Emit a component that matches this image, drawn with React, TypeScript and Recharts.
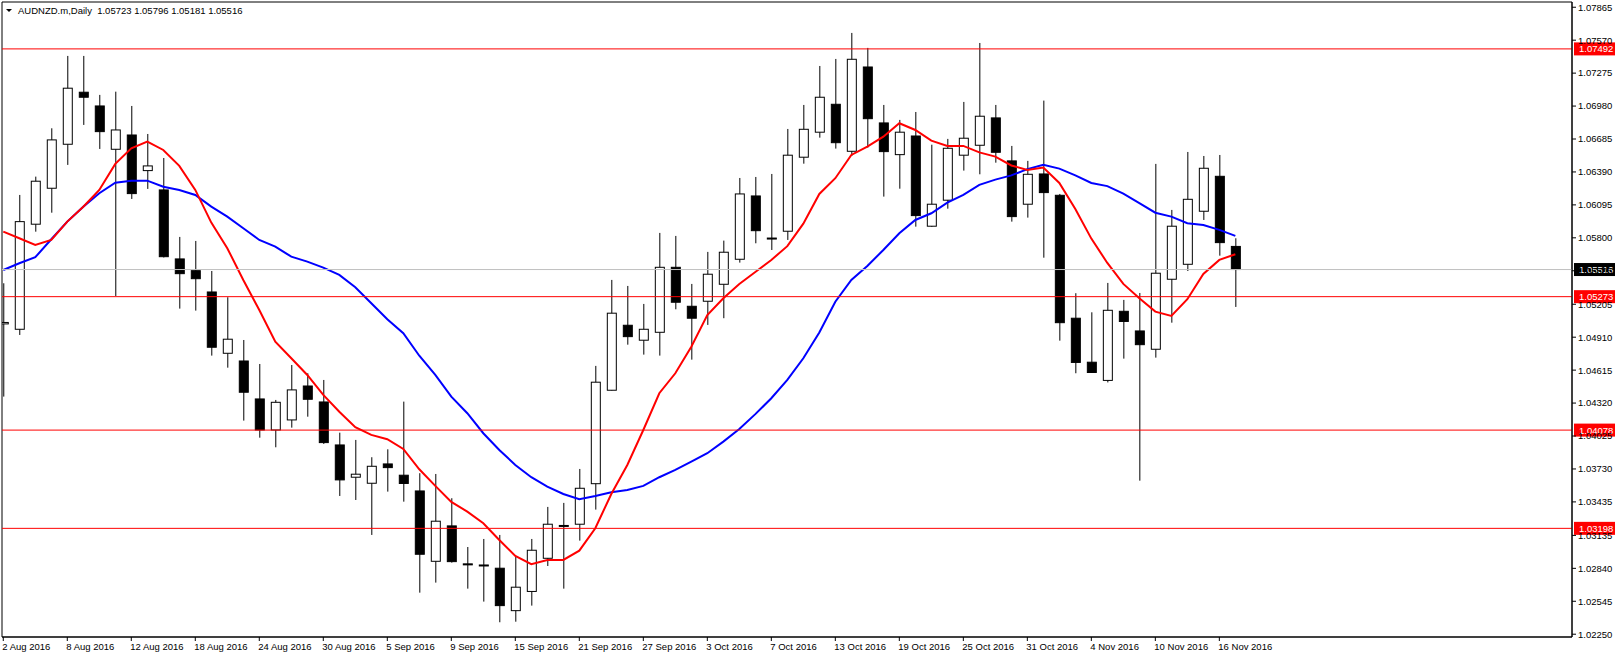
import { ComposedChart, Bar, Line, XAxis, YAxis, ReferenceLine, ReferenceArea } from "recharts";

const FONT = "'Liberation Sans', Arial, sans-serif";
const symbol = "AUDNZD.m,Daily";

// trading days on the chart
const monthDays: [string, number[]][] = [
  ["Aug", [2, 3, 4, 5, 8, 9, 10, 11, 12, 15, 16, 17, 18, 19, 22, 23, 24, 25, 26, 29, 30, 31]],
  ["Sep", [1, 2, 5, 6, 7, 8, 9, 12, 13, 14, 15, 16, 19, 20, 21, 22, 23, 26, 27, 28, 29, 30]],
  ["Oct", [3, 4, 5, 6, 7, 10, 11, 12, 13, 14, 17, 18, 19, 20, 21, 24, 25, 26, 27, 28, 31]],
  ["Nov", [1, 2, 3, 4, 7, 8, 9, 10, 11, 14, 15, 16, 17]],
];
const days = monthDays.flatMap(([m, ds]) => ds.map((d) => `${d} ${m} 2016`));

const opens = [
  1.05029, 1.04981, 1.05922, 1.06244, 1.06638, 1.07104, 1.06981, 1.06593, 1.06721, 1.06402,
  1.06229, 1.05611, 1.05506, 1.05315, 1.04766, 1.04697, 1.04357, 1.04079, 1.04169, 1.04473,
  1.0433, 1.03945, 1.03656, 1.03602, 1.03775, 1.03674, 1.03533, 1.02903, 1.0322, 1.0288,
  1.0287, 1.02841, 1.02461, 1.02633, 1.0293, 1.0322, 1.03235, 1.03598, 1.04435, 1.05017,
  1.04883, 1.04954, 1.05536, 1.05187, 1.05232, 1.05384, 1.05608, 1.06175, 1.05798, 1.05859,
  1.06522, 1.06746, 1.06996, 1.06575, 1.0733, 1.06829, 1.06545, 1.06712, 1.05904, 1.06137,
  1.0654, 1.06629, 1.06874, 1.06489, 1.06101, 1.06372, 1.06181, 1.0508, 1.04686, 1.04523,
  1.05142, 1.04966, 1.04802, 1.05429, 1.05563, 1.06038, 1.06351, 1.05723,
];
const highs = [
  1.05393, 1.06184, 1.06348, 1.06781, 1.07429, 1.07429, 1.0708, 1.07109, 1.06981, 1.0673,
  1.06515, 1.05808, 1.05772, 1.05503, 1.05268, 1.04885, 1.0467, 1.04348, 1.04661, 1.04587,
  1.04527, 1.04055, 1.0399, 1.03835, 1.03906, 1.04333, 1.03692, 1.03685, 1.03468, 1.03031,
  1.03103, 1.03139, 1.02945, 1.03103, 1.0339, 1.03426, 1.0373, 1.04653, 1.05423, 1.05369,
  1.05208, 1.05844, 1.05817, 1.05387, 1.05674, 1.05775, 1.06336, 1.06345, 1.06372, 1.06775,
  1.0699, 1.07339, 1.07402, 1.07635, 1.07501, 1.0699, 1.06856, 1.06927, 1.06634, 1.06686,
  1.07017, 1.07545, 1.0699, 1.06623, 1.06489, 1.07029, 1.06193, 1.05304, 1.05133, 1.05396,
  1.05244, 1.05306, 1.06462, 1.0605, 1.06569, 1.06533, 1.06542, 1.05796,
];
const lows = [
  1.04378, 1.0493, 1.05855, 1.06025, 1.06453, 1.06811, 1.06596, 1.05279, 1.06148, 1.06238,
  1.05624, 1.05166, 1.05148, 1.04745, 1.04637, 1.04163, 1.0401, 1.03924, 1.041, 1.04198,
  1.03954, 1.03488, 1.03452, 1.03139, 1.03527, 1.03437, 1.02622, 1.02712, 1.02891, 1.02658,
  1.02542, 1.02357, 1.02362, 1.02506, 1.02861, 1.02658, 1.03088, 1.03366, 1.04433, 1.04843,
  1.04754, 1.04745, 1.0516, 1.04709, 1.0502, 1.0508, 1.05578, 1.05751, 1.05691, 1.05781,
  1.06464, 1.06697, 1.06599, 1.06533, 1.06608, 1.06169, 1.0624, 1.059, 1.05898, 1.06061,
  1.06402, 1.06369, 1.06473, 1.05945, 1.05981, 1.05622, 1.04879, 1.04587, 1.0459, 1.04505,
  1.04718, 1.03625, 1.04727, 1.0504, 1.05503, 1.0596, 1.0564, 1.05181,
];
const closes = [
  1.05042, 1.05945, 1.06307, 1.06677, 1.0714, 1.07059, 1.06751, 1.06766, 1.06196, 1.06444,
  1.05631, 1.05479, 1.05434, 1.0482, 1.04892, 1.04417, 1.04079, 1.04327, 1.04438, 1.04354,
  1.03966, 1.03632, 1.03683, 1.03754, 1.03742, 1.036, 1.02966, 1.03262, 1.029, 1.02876,
  1.02866, 1.02506, 1.02671, 1.03002, 1.03235, 1.03224, 1.03557, 1.04507, 1.05125, 1.04915,
  1.04981, 1.05536, 1.05223, 1.0508, 1.05474, 1.05671, 1.06193, 1.05864, 1.05794, 1.0654,
  1.06772, 1.07059, 1.06652, 1.07399, 1.06867, 1.06572, 1.06746, 1.05999, 1.06101, 1.06602,
  1.06692, 1.06889, 1.06566, 1.0599, 1.06369, 1.06205, 1.0504, 1.04684, 1.04594, 1.05151,
  1.05051, 1.04843, 1.05483, 1.05904, 1.06145, 1.06423, 1.05757, 1.05516,
];
// red (fast) moving average
const maFast = [
  1.05855, 1.05796, 1.05736, 1.05781, 1.05945, 1.06079, 1.06229, 1.06462, 1.06602, 1.06661,
  1.06587, 1.06444, 1.06229, 1.05936, 1.05707, 1.05423, 1.05154, 1.0487, 1.04721, 1.04572,
  1.04393, 1.04243, 1.04104, 1.04035, 1.03996, 1.03909, 1.03727, 1.03578, 1.03435, 1.03348,
  1.03244, 1.03094, 1.02951, 1.02877, 1.02915, 1.02915, 1.02998, 1.03199, 1.03506, 1.03766,
  1.04079, 1.04408, 1.04587, 1.04825, 1.05109, 1.05259, 1.05387, 1.05494, 1.05602, 1.05725,
  1.05927, 1.06193, 1.06334, 1.06542, 1.06617, 1.06706, 1.06826, 1.06766, 1.0667, 1.06623,
  1.06623, 1.06565, 1.06527, 1.06448, 1.06408, 1.06429, 1.06291, 1.06059, 1.05793, 1.05575,
  1.05387, 1.05259, 1.05139, 1.051, 1.0525, 1.05476, 1.05602, 1.05653,
];
// blue (slow) moving average
const maSlow = [
  1.05512, 1.05572, 1.05626, 1.05787, 1.05945, 1.06079, 1.06199, 1.06294, 1.06312, 1.06312,
  1.06258, 1.06229, 1.06184, 1.06079, 1.0599, 1.05886, 1.05781, 1.05721, 1.05631, 1.05587,
  1.05533, 1.05468, 1.05357, 1.05214, 1.05071, 1.04945, 1.04744, 1.04572, 1.04378, 1.04229,
  1.0405, 1.039, 1.03766, 1.03656, 1.03572, 1.03506, 1.03459, 1.03488, 1.03521, 1.03542,
  1.03578, 1.03656, 1.03721, 1.03795, 1.03871, 1.03975, 1.04087, 1.04221, 1.04363, 1.04527,
  1.04721, 1.04952, 1.05228, 1.05423, 1.05548, 1.05691, 1.05841, 1.0596, 1.0602, 1.06115,
  1.06184, 1.06274, 1.06321, 1.06359, 1.06415, 1.06455, 1.0642, 1.06359, 1.06291, 1.06263,
  1.06195, 1.0611, 1.06025, 1.0599, 1.05931, 1.05915, 1.05871, 1.05817,
];

const levels = [1.07492, 1.05273, 1.04078, 1.03198];
const priceTicks = [
  1.07865, 1.0757, 1.07275, 1.0698, 1.06685, 1.0639, 1.06095, 1.058, 1.05505, 1.05205,
  1.0491, 1.04615, 1.0432, 1.04025, 1.0373, 1.03435, 1.03135, 1.0284, 1.02545, 1.0225,
];
const dateTicks = days.map((_, i) => i).filter((i) => i % 4 === 0);

const data = days.map((d, i) => ({
  i,
  date: d,
  open: opens[i],
  high: highs[i],
  low: lows[i],
  close: closes[i],
  range: [lows[i], highs[i]],
  fast: maFast[i],
  slow: maSlow[i],
}));

const last = data[data.length - 1];

function Candle(props: any) {
  const { x, width, y, height, payload } = props;
  const { open, close, high, low } = payload;
  const cx = x + width / 2;
  const k = high === low ? 0 : height / (high - low);
  const yOf = (v: number) => y + (high - v) * k;
  const top = yOf(Math.max(open, close));
  const bot = yOf(Math.min(open, close));
  const up = close >= open;
  return (
    <g>
      <line x1={cx} x2={cx} y1={y} y2={y + height} stroke="#000" strokeWidth={1} />
      <rect
        x={cx - 4.5}
        y={top}
        width={9}
        height={Math.max(bot - top, 1)}
        fill={up ? "#fff" : "#000"}
        stroke="#000"
        strokeWidth={1}
      />
    </g>
  );
}

function PriceTag(props: any) {
  const { viewBox, text, bg } = props;
  if (!viewBox) return null;
  const right = viewBox.x + viewBox.width;
  return (
    <g>
      <rect x={right + 2} y={viewBox.y - 6.5} width={45} height={13} fill={bg} />
      <text x={right + 7} y={viewBox.y + 3.5} fill="#fff" fontSize={9.5} fontFamily={FONT}>
        {text}
      </text>
    </g>
  );
}

function DateTick(props: any) {
  const { x, y, payload } = props;
  return (
    <g>
      <line x1={x} x2={x} y1={y} y2={y + 4} stroke="#000" />
      <text x={x - 1} y={y + 13} fontSize={9.5} fontFamily={FONT} fill="#000" textAnchor="start">
        {days[payload.value]}
      </text>
    </g>
  );
}

export default function App() {
  const fmt = (v: number) => v.toFixed(5);
  return (
    <div style={{ position: "absolute", left: 0, top: 0, width: 1615, height: 658, background: "#fff" }}>
      <ComposedChart width={1615} height={658} data={data} margin={{ top: 2, right: 0, bottom: 0, left: 2 }}>
        <XAxis
          dataKey="i"
          type="number"
          domain={[-0.08, 98.04]}
          allowDataOverflow
          ticks={dateTicks}
          interval={0}
          height={21}
          tickSize={0}
          tickMargin={0}
          tick={<DateTick />}
          axisLine={{ stroke: "#000" }}
        />
        <YAxis
          orientation="right"
          type="number"
          domain={[1.02225, 1.07912]}
          allowDataOverflow
          ticks={priceTicks}
          interval={0}
          width={43}
          tickSize={4}
          tickMargin={2}
          tickFormatter={fmt}
          tick={{ fill: "#000", fontSize: 9.5, fontFamily: FONT }}
          tickLine={{ stroke: "#000" }}
          axisLine={{ stroke: "#000" }}
        />
        <ReferenceArea x1={-0.08} x2={98.04} y1={1.02225} y2={1.07912} fill="none" stroke="#000" />
        <Bar dataKey="range" barSize={9} isAnimationActive={false} shape={(p: any) => <Candle {...p} />} />
        <Line dataKey="slow" type="linear" stroke="#0000ff" strokeWidth={2} dot={false} isAnimationActive={false} />
        <Line dataKey="fast" type="linear" stroke="#ff0000" strokeWidth={2} dot={false} isAnimationActive={false} />
        <ReferenceLine
          y={last.close}
          stroke="#c0c0c0"
          label={<PriceTag text={fmt(last.close)} bg="#000" />}
        />
        {levels.map((v) => (
          <ReferenceLine key={v} y={v} stroke="#ff0000" label={<PriceTag text={fmt(v)} bg="#ff0000" />} />
        ))}
      </ComposedChart>
      <div
        style={{
          position: "absolute",
          left: 6,
          top: 5,
          fontFamily: FONT,
          fontSize: 9.5,
          lineHeight: "11px",
          color: "#000",
          whiteSpace: "pre",
          display: "flex",
          alignItems: "center",
        }}
      >
        <svg width={12} height={11}>
          <polygon points="0,4 6,4 3,7" fill="#000" />
        </svg>
        <span>
          {symbol}  {fmt(last.open)} {fmt(last.high)} {fmt(last.low)} {fmt(last.close)}
        </span>
      </div>
    </div>
  );
}
